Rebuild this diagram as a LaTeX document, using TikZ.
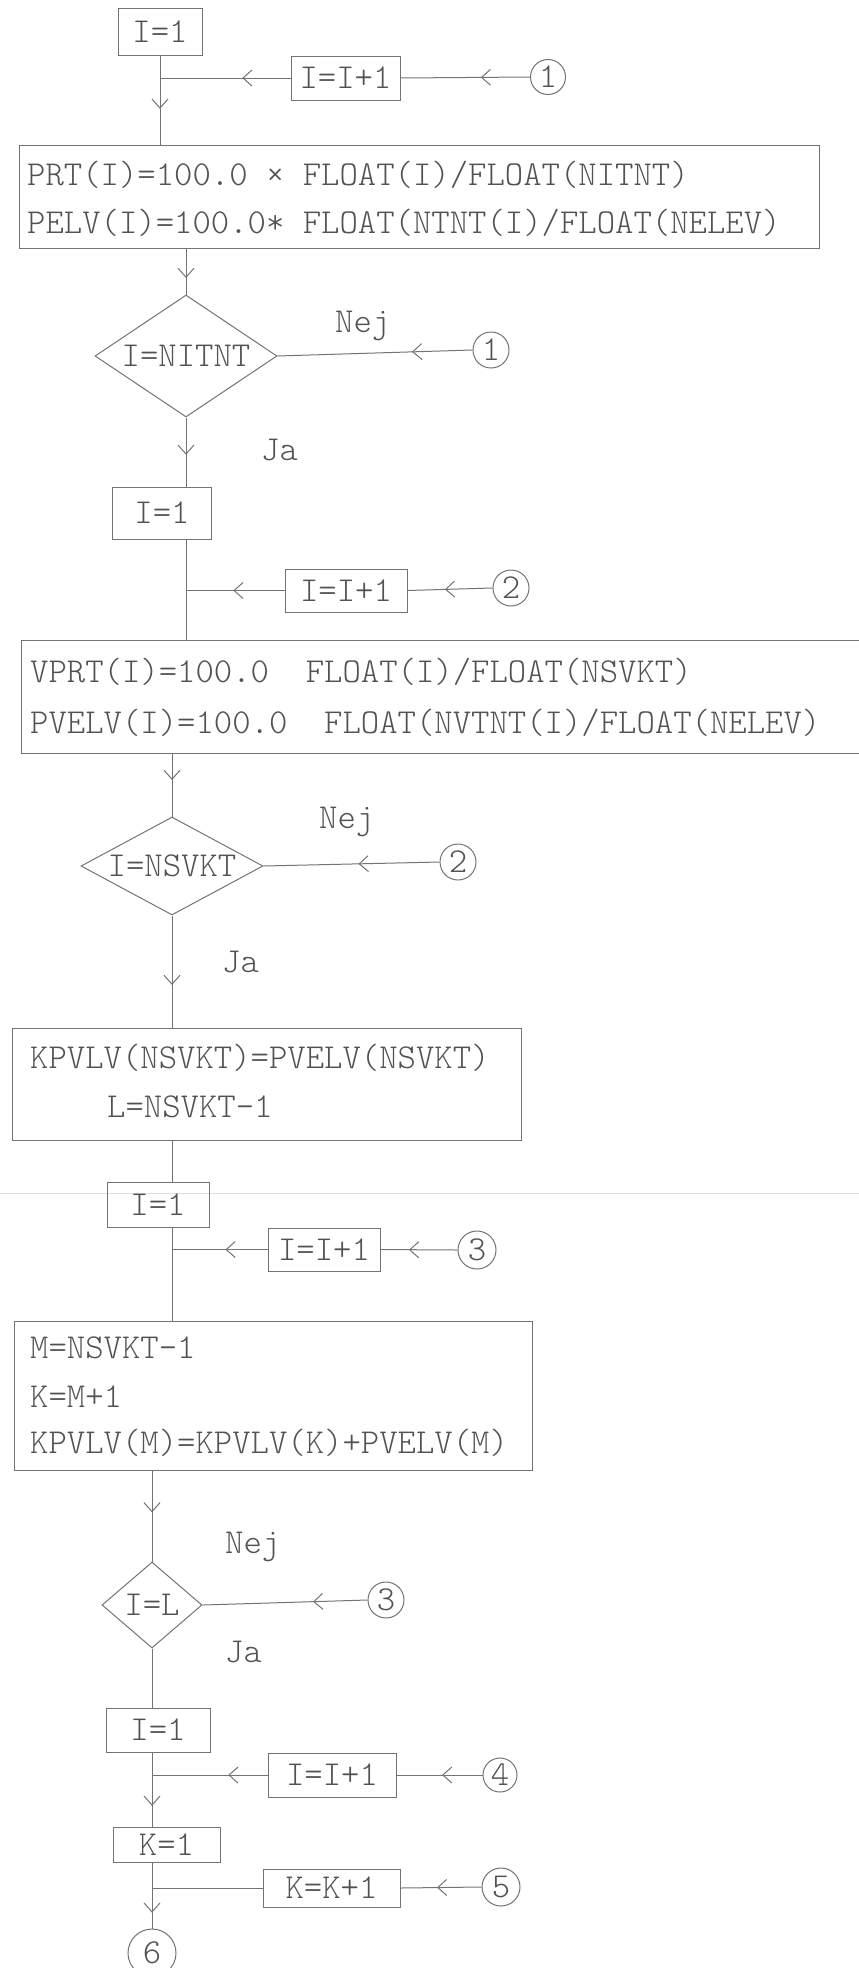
\documentclass[tikz,border=0pt]{standalone}
\usetikzlibrary{shapes.geometric,arrows.meta,decorations.markings}
\begin{document}
\begin{tikzpicture}[x=1pt,y=-1pt,
  ln/.style={draw=black!55, line width=1pt},
  txt/.style={font=\fontsize{35}{42}\fontseries{l}\ttfamily\selectfont, text=black!68},
  box/.style={ln, txt, rectangle, inner sep=0pt},
  dia/.style={ln, txt, diamond, inner sep=0pt},
  conn/.style={ln, txt, circle, inner sep=0pt, minimum size=36pt},
  lbl/.style={txt, inner sep=0pt, anchor=base west},
  arr/.style={postaction={decorate}, decoration={markings, mark=at position #1 with {\arrow{Straight Barb[length=9pt,width=16pt]}}}}
]
\useasboundingbox (0,0) rectangle (859,1968);
\clip (0,0) rectangle (859,1968);
\draw[black!12, line width=1pt] (0,1193) -- (859,1193);

% ---------- section 1
\node[box, minimum width=84pt, minimum height=47pt] (b1) at (160,31.5) {I=1};
\node[box, minimum width=109pt, minimum height=44pt] (inc1) at (345.5,78) {I=I+1};
\node[conn, minimum size=35pt] (c1a) at (548,77) {1};
\node[box, minimum width=800pt, minimum height=103pt] (prt) at (419,196.5) {};
\node[lbl] (prt1) at (27,185) {PRT(I)=100.0 × FLOAT(I)/FLOAT(NITNT)};
\node[lbl] (prt2) at (27,233) {PELV(I)=100.0* FLOAT(NTNT(I)/FLOAT(NELEV)};
\node[dia, minimum width=182pt, minimum height=122pt, aspect=1.5] (d1) at (186,356) {I=NITNT};
\node[conn] (c1b) at (491,350) {1};
\node[lbl] (nej1) at (335,332) {Nej};
\node[lbl] (ja1) at (261,460) {Ja};

% ---------- section 2
\node[box, minimum width=99pt, minimum height=52pt] (b2) at (162,513) {I=1};
\node[box, minimum width=122pt, minimum height=43pt] (inc2) at (346,590.5) {I=I+1};
\node[conn] (c2a) at (511,588) {2};
\node[box, minimum width=860pt, minimum height=113pt] (vprt) at (451,696.5) {};
\node[lbl] (vprt1) at (30,682) {VPRT(I)=100.0\ \ FLOAT(I)/FLOAT(NSVKT)};
\node[lbl] (vprt2) at (30,733) {PVELV(I)=100.0\ \ FLOAT(NVTNT(I)/FLOAT(NELEV)};
\node[dia, minimum width=182pt, minimum height=98pt, aspect=1.85] (d2) at (172,866) {I=NSVKT};
\node[conn] (c2b) at (458,862) {2};
\node[lbl] (nej2) at (319,828) {Nej};
\node[lbl] (ja2) at (222,972) {Ja};

% ---------- section 3
\node[box, minimum width=509pt, minimum height=112pt] (kp) at (266.5,1084) {};
\node[lbl] (kp1) at (30,1068) {KPVLV(NSVKT)=PVELV(NSVKT)};
\node[lbl] (kp2) at (107,1117) {L=NSVKT-1};
\node[box, minimum width=102pt, minimum height=45pt] (b3) at (158,1204.5) {I=1};
\node[box, minimum width=112pt, minimum height=43pt] (inc3) at (324,1249.5) {I=I+1};
\node[conn, minimum size=38pt] (c3a) at (477,1250) {3};
\node[box, minimum width=518pt, minimum height=149pt] (m) at (273,1395.5) {};
\node[lbl] (m1) at (30,1358) {M=NSVKT-1};
\node[lbl] (m2) at (30,1407) {K=M+1};
\node[lbl] (m3) at (30,1453) {KPVLV(M)=KPVLV(K)+PVELV(M)};
\node[dia, minimum width=100pt, minimum height=86pt, aspect=1.16] (d3) at (152,1605) {I=L};
\node[conn] (c3b) at (386,1600) {3};
\node[lbl] (nej3) at (225,1553) {Nej};
\node[lbl] (ja3) at (225,1662) {Ja};

% ---------- section 4
\node[box, minimum width=104pt, minimum height=44pt] (b4) at (158,1730) {I=1};
\node[box, minimum width=128pt, minimum height=44pt] (inc4) at (332,1775) {I=I+1};
\node[conn, minimum size=34pt] (c4) at (500,1775) {4};
\node[box, minimum width=107pt, minimum height=35pt] (k) at (166.5,1844.5) {K=1};
\node[box, minimum width=137pt, minimum height=38pt] (inck) at (331.5,1888) {K=K+1};
\node[conn, minimum size=38pt] (c5) at (501,1887) {5};
\node[conn, minimum size=48pt] (c6) at (152,1953) {6};

% ---------- connectors
\draw[ln, arr=0.6] (b1.south) -- (b1.south |- prt.north);
\draw[ln, arr=0.37] (inc1.west) -- (inc1.west -| b1.south);
\draw[ln, arr=0.38] (c1a.west) -- (inc1.east);
\draw[ln, arr=0.64] (d1.north |- prt.south) -- (d1.north);
\draw[ln, arr=0.31] (c1b.west) -- (d1.east);
\draw[ln, arr=0.54] (d1.south) -- (d1.south |- b2.north);
\draw[ln] (b2.south -| d1.south) -- (vprt.north -| d1.south);
\draw[ln, arr=0.52] (inc2.west) -- (inc2.west -| d1.south);
\draw[ln, arr=0.56] (c2a.west) -- (inc2.east);
\draw[ln, arr=0.42] (vprt.south -| d2.north) -- (d2.north);
\draw[ln, arr=0.46] (c2b.west) -- (d2.east);
\draw[ln, arr=0.62] (d2.south) -- (d2.south |- kp.north);
\draw[ln] (kp.south -| d2.south) -- (b3.north -| d2.south);
\draw[ln] (b3.south -| d2.south) -- (m.north -| d2.south);
\draw[ln, arr=0.44] (inc3.west) -- (inc3.west -| d2.south);
\draw[ln, arr=0.63] (c3a.west) -- (inc3.east);
\draw[ln, arr=0.46] (m.south -| d3.north) -- (d3.north);
\draw[ln, arr=0.33] (c3b.west) -- (d3.east);
\draw[ln] (d3.south) -- (d3.south |- b4.north);
\draw[ln, arr=0.72] (b4.south -| d3.south) -- (k.north -| d3.south);
\draw[ln, arr=0.34] (inc4.west) -- (inc4.west -| d3.south);
\draw[ln, arr=0.47] (c4.west) -- (inc4.east);
\draw[ln, arr=0.76] (k.south -| d3.south) -- (c6.north);
\draw[ln] (inck.west) -- (inck.west -| d3.south);
\draw[ln, arr=0.55] (c5.west) -- (inck.east);
\end{tikzpicture}
\end{document}
